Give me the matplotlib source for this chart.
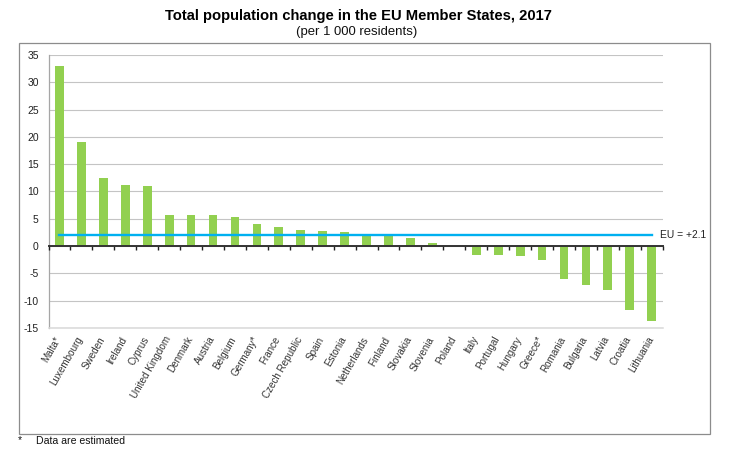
import matplotlib
matplotlib.use("Agg")
import matplotlib.pyplot as plt
import numpy as np
from matplotlib.patches import Rectangle
from matplotlib.transforms import ScaledTranslation

plt.rcParams["font.family"] = ["Liberation Sans", "DejaVu Sans"]
plt.rcParams["axes.unicode_minus"] = False

countries = ["Malta*", "Luxembourg", "Sweden", "Ireland", "Cyprus", "United Kingdom",
             "Denmark", "Austria", "Belgium", "Germany*", "France", "Czech Republic",
             "Spain", "Estonia", "Netherlands", "Finland", "Slovakia", "Slovenia",
             "Poland", "Italy", "Portugal", "Hungary", "Greece*", "Romania",
             "Bulgaria", "Latvia", "Croatia", "Lithuania"]
change = [32.9, 19.0, 12.4, 11.2, 11.0, 5.7, 5.6, 5.6, 5.3, 4.0, 3.5, 2.9, 2.8, 2.6,
          2.2, 1.9, 1.4, 0.5, 0.0, -1.6, -1.7, -1.9, -2.6, -6.1, -7.2, -8.0, -11.7, -13.7]
eu_value = [2.1] * len(countries)
y_ticks = [-15, -10, -5, 0, 5, 10, 15, 20, 25, 30, 35]

W, H = 729, 454
fig = plt.figure(figsize=(W / 100, H / 100), dpi=100)

# chart frame around the plot, in pixels
fig.add_artist(Rectangle((18.5 / W, 1 - 433.5 / H), 691.5 / W, 390.5 / H,
                         transform=fig.transFigure, fill=False,
                         edgecolor="#8c8c8c", linewidth=0.9))

ax = fig.add_axes([48.5 / W, 1 - 327.8 / H, 614.2 / W, 272.8 / H])
x = np.arange(len(countries))

ax.bar(x, change, width=0.4, color="#92D050", zorder=2)
ax.plot(x, eu_value, color="#00B0F0", linewidth=1.7, zorder=3)

ax.set_xlim(-0.5, len(countries) - 0.5)
ax.set_ylim(-15, 35)
ax.set_yticks(y_ticks)
ax.yaxis.grid(True, color="#c4c4c4", linewidth=0.8, zorder=0)
ax.set_axisbelow(True)
ax.tick_params(axis="y", length=0, pad=7, labelsize=7.5, labelcolor="#222222")

ax.set_xticks(x, countries, rotation=60, ha="right", rotation_mode="anchor",
              fontsize=7.1, color="#333333")
ax.tick_params(axis="x", length=0, pad=5)
# labels end a little left of the category centre
shift = ScaledTranslation(-3.6 / 72, 0, fig.dpi_scale_trans)
for lab in ax.get_xticklabels():
    lab.set_transform(lab.get_transform() + shift)

for side in ["top", "right"]:
    ax.spines[side].set_visible(False)
ax.spines["left"].set_color("#a6a6a6")
ax.spines["left"].set_linewidth(0.9)
ax.spines["bottom"].set_color("#d9d9d9")
ax.spines["bottom"].set_linewidth(1.1)

# zero line with ticks between the categories
zero_axis = ax.secondary_xaxis(0, transform=ax.transData)
zero_axis.set_zorder(4)
zero_axis.set_xticks(np.arange(-0.5, len(countries)), labels=[])
zero_axis.tick_params(axis="x", length=2.6, width=1.0, color="#222222")
zero_axis.spines["bottom"].set_color("#333333")
zero_axis.spines["bottom"].set_linewidth(1.4)

ax.annotate("EU = +2.1", xy=(1, 2.1), xycoords=("axes fraction", "data"),
            xytext=(-2, 0), textcoords="offset points", va="center", ha="left",
            fontsize=7.4, color="#222222", annotation_clip=False)

fig.text(358.5 / W, 1 - 16 / H, "Total population change in the EU Member States, 2017",
         ha="center", va="center", fontsize=10.6, fontweight="bold", color="black")
fig.text(357 / W, 1 - 31.5 / H, "(per 1 000 residents)",
         ha="center", va="center", fontsize=9.45, color="#111111")

fig.text(18 / W, 1 - 440.5 / H, "*", ha="left", va="center", fontsize=7.5, color="#111111")
fig.text(36.5 / W, 1 - 440.5 / H, "Data are estimated", ha="left", va="center",
         fontsize=7.55, color="#111111")

fig.savefig("out.png", dpi=100)
plt.close(fig)
